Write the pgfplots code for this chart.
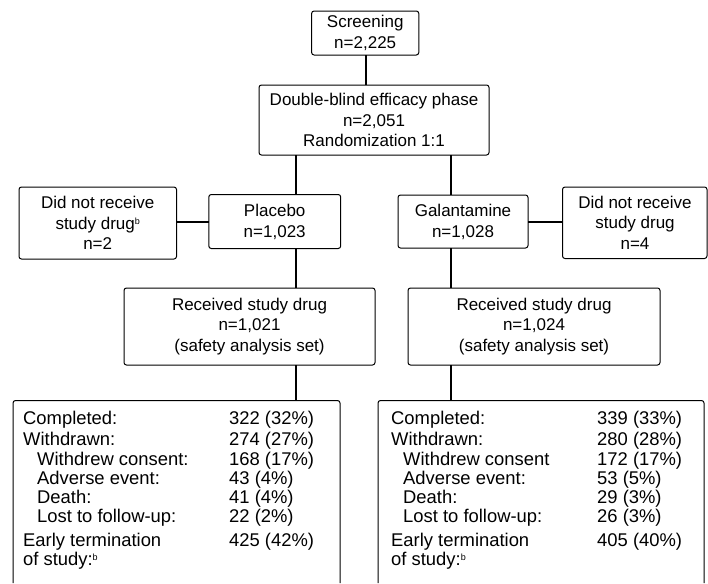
\documentclass[border=0pt]{standalone}
\usepackage{pgfplots}
\pgfplotsset{compat=1.18}
\usepackage{fontspec}
\setmainfont{Liberation Sans}
\newcommand{\supb}[1]{\raisebox{0.55ex}{\fontsize{9}{9}\selectfont #1}}
\tikzset{
  boxstyle/.style={black, line width=1pt, rounded corners=2.5pt},
  linkstyle/.style={black, line width=2pt},
  txt/.style={font=\fontsize{17}{20.5}\selectfont, align=center, inner sep=0pt, text=black},
  btxt/.style={font=\fontsize{18.4}{20}\selectfont, anchor=base west, inner sep=0pt, text=black}}
\begin{document}
\begin{tikzpicture}
\begin{axis}[width=708pt, height=583pt, scale only axis,
  xmin=0, xmax=708, ymin=0, ymax=583, y dir=reverse,
  hide axis, clip=false]
\addplot[draw=none] coordinates {(0,0) (708,583)};
% connectors
\addplot[linkstyle, mark=none] coordinates {(365.5,55) (365.5,85)};
\addplot[linkstyle, mark=none] coordinates {(296,155) (296,194.5)};
\addplot[linkstyle, mark=none] coordinates {(451,155) (451,195)};
\addplot[linkstyle, mark=none] coordinates {(176.5,221.5) (208.8,221.5)};
\addplot[linkstyle, mark=none] coordinates {(528,221.5) (562.5,221.5)};
\addplot[linkstyle, mark=none] coordinates {(296,248.5) (296,288)};
\addplot[linkstyle, mark=none] coordinates {(451,248) (451,288)};
\addplot[linkstyle, mark=none] coordinates {(296,365) (296,400.5)};
\addplot[linkstyle, mark=none] coordinates {(451,365) (451,400.5)};
% boxes
\addplot[boxstyle, mark=none] coordinates {(311.6,11) (418.8,11) (418.8,55) (311.6,55)} -- cycle;
\addplot[boxstyle, mark=none] coordinates {(259,85) (489,85) (489,155) (259,155)} -- cycle;
\addplot[boxstyle, mark=none] coordinates {(208.8,194.5) (340.7,194.5) (340.7,248.5) (208.8,248.5)} -- cycle;
\addplot[boxstyle, mark=none] coordinates {(19,187) (176.5,187) (176.5,259) (19,259)} -- cycle;
\addplot[boxstyle, mark=none] coordinates {(398,195) (528,195) (528,248) (398,248)} -- cycle;
\addplot[boxstyle, mark=none] coordinates {(562.5,187) (707,187) (707,258.5) (562.5,258.5)} -- cycle;
\addplot[boxstyle, mark=none] coordinates {(124,288) (375,288) (375,365) (124,365)} -- cycle;
\addplot[boxstyle, mark=none] coordinates {(408,288) (660,288) (660,365) (408,365)} -- cycle;
\addplot[boxstyle, mark=none] coordinates {(13,583) (13,400.5) (340,400.5) (340,583)};
\addplot[boxstyle, mark=none] coordinates {(378,583) (378,400.5) (704,400.5) (704,583)};
% texts
\node[txt] at (axis cs:365.2,33) {Screening\\n=2,225};
\node[txt] at (axis cs:374,120) {Double-blind efficacy phase\\n=2,051\\Randomization 1:1};
\node[txt] at (axis cs:274.7,222) {Placebo\\n=1,023};
\node[txt] at (axis cs:97.7,223) {Did not receive\\study drug\supb{b}\\n=2};
\node[txt] at (axis cs:463,222) {Galantamine\\n=1,028};
\node[txt] at (axis cs:635,222.5) {Did not receive\\study drug\\n=4};
\node[txt] at (axis cs:249.5,326.5) {Received study drug\\n=1,021\\(safety analysis set)};
\node[txt] at (axis cs:534,326.5) {Received study drug\\n=1,024\\(safety analysis set)};
% left bottom box
\node[btxt] at (axis cs:23,424) {Completed:};
\node[btxt] at (axis cs:23,445) {Withdrawn:};
\node[btxt] at (axis cs:37,465) {Withdrew consent:};
\node[btxt] at (axis cs:37,484) {Adverse event:};
\node[btxt] at (axis cs:37,503.5) {Death:};
\node[btxt] at (axis cs:37,522.5) {Lost to follow-up:};
\node[btxt] at (axis cs:23,546) {Early termination};
\node[btxt] at (axis cs:23,565.5) {of study:\supb{b}};
\node[btxt] at (axis cs:229,424) {322 (32\%)};
\node[btxt] at (axis cs:229,445) {274 (27\%)};
\node[btxt] at (axis cs:229,465) {168 (17\%)};
\node[btxt] at (axis cs:229,484) {43 (4\%)};
\node[btxt] at (axis cs:229,503.5) {41 (4\%)};
\node[btxt] at (axis cs:229,522.5) {22 (2\%)};
\node[btxt] at (axis cs:229,546) {425 (42\%)};
% right bottom box
\node[btxt] at (axis cs:391,424) {Completed:};
\node[btxt] at (axis cs:391,445) {Withdrawn:};
\node[btxt] at (axis cs:403,465) {Withdrew consent};
\node[btxt] at (axis cs:403,484) {Adverse event:};
\node[btxt] at (axis cs:403,503.5) {Death:};
\node[btxt] at (axis cs:403,522.5) {Lost to follow-up:};
\node[btxt] at (axis cs:391,546) {Early termination};
\node[btxt] at (axis cs:391,565.5) {of study:\supb{b}};
\node[btxt] at (axis cs:597,424) {339 (33\%)};
\node[btxt] at (axis cs:597,445) {280 (28\%)};
\node[btxt] at (axis cs:597,465) {172 (17\%)};
\node[btxt] at (axis cs:597,484) {53 (5\%)};
\node[btxt] at (axis cs:597,503.5) {29 (3\%)};
\node[btxt] at (axis cs:597,522.5) {26 (3\%)};
\node[btxt] at (axis cs:597,546) {405 (40\%)};
\end{axis}
\end{tikzpicture}
\end{document}
